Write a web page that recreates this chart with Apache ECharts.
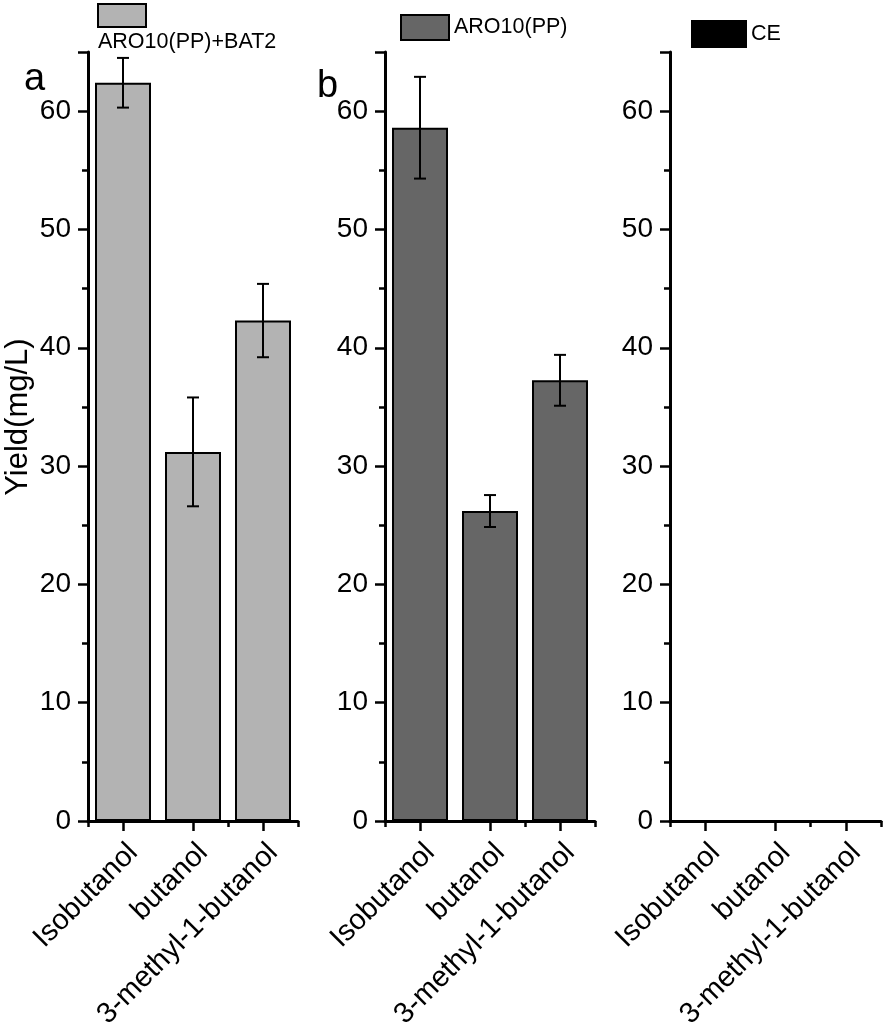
<!DOCTYPE html>
<html>
<head>
<meta charset="utf-8">
<script src="https://cdn.jsdelivr.net/npm/echarts@6/dist/echarts.min.js"></script>
<style>html,body{margin:0;padding:0;background:#fff;}#c{width:886px;height:1022px;}</style>
</head>
<body>
<div id="c"></div>
<script>
var categories = ['Isobutanol', 'butanol', '3-methyl-1-butanol'];
var seriesNames = ['ARO10(PP)+BAT2', 'ARO10(PP)', 'CE'];
var bat2Values = [62.4, 31.2, 42.3];
var bat2Errors = [2.1, 4.6, 3.1];
var ppValues = [58.6, 26.2, 37.25];
var ppErrors = [4.3, 1.35, 2.15];
var ceValues = [0, 0, 0];
var ceErrors = [null, null, null];
var yMin = 0, yMax = 65, yInterval = 10;
var panelLabels = ['a', 'b'];

var FONT = 'Liberation Sans, Arial, sans-serif';
var colors = ['#b3b3b3', '#666666', '#000000'];
var gridLefts = [88, 385, 670];
var gridWidths = [210, 210, 211];
var valuesList = [bat2Values, ppValues, ceValues];
var errorsList = [bat2Errors, ppErrors, ceErrors];

var grids = [], xAxes = [], yAxes = [], series = [], legends = [];
for (var i = 0; i < 3; i++) {
  grids.push({left: gridLefts[i], top: 52, width: gridWidths[i], height: 769, containLabel: false, outerBoundsMode: 'none'});
  xAxes.push({
    type: 'category', gridIndex: i, data: categories, boundaryGap: true,
    axisLine: {show: true, lineStyle: {color: '#000', width: 3}},
    axisTick: {show: true, alignWithLabel: true, length: 10, lineStyle: {color: '#000', width: 2.5}},
    axisLabel: {interval: 0, rotate: 45, fontSize: 29, fontFamily: FONT, color: '#000', margin: 17, verticalAlign: 'top'},
    splitLine: {show: false}
  });
  xAxes.push({
    type: 'category', gridIndex: i, data: categories, boundaryGap: true, position: 'bottom',
    axisLine: {show: false},
    axisTick: {show: true, alignWithLabel: false, length: 6, lineStyle: {color: '#000', width: 2.5}},
    axisLabel: {show: false}, splitLine: {show: false}
  });
  yAxes.push({
    type: 'value', gridIndex: i, min: yMin, max: yMax, interval: yInterval,
    axisLine: {show: true, lineStyle: {color: '#000', width: 3}},
    axisTick: {show: true, inside: false, length: 10, lineStyle: {color: '#000', width: 2.5}},
    minorTick: {show: true, splitNumber: 2, length: 6, lineStyle: {color: '#000', width: 2.5}},
    axisLabel: {fontSize: 28, fontFamily: FONT, color: '#000', margin: 17,
      formatter: function (v) { return v > 60 ? '' : String(v); }},
    splitLine: {show: false}
  });
  series.push({
    name: seriesNames[i], type: 'bar', xAxisIndex: i * 2, yAxisIndex: i,
    data: valuesList[i], barCategoryGap: '20%',
    itemStyle: {color: colors[i], borderColor: '#000', borderWidth: 2}
  });
  var errData = [];
  for (var k = 0; k < categories.length; k++) {
    if (errorsList[i][k] != null) {
      errData.push([k, valuesList[i][k] - errorsList[i][k], valuesList[i][k] + errorsList[i][k]]);
    }
  }
  if (errData.length) {
    series.push({
      type: 'custom', xAxisIndex: i * 2, yAxisIndex: i, data: errData, z: 10,
      encode: {x: 0, y: [1, 2]},
      renderItem: function (params, api) {
        var lo = api.coord([api.value(0), api.value(1)]);
        var hi = api.coord([api.value(0), api.value(2)]);
        var hw = 6;
        var st = {stroke: '#000', lineWidth: 2};
        return {type: 'group', children: [
          {type: 'line', shape: {x1: hi[0], y1: hi[1], x2: lo[0], y2: lo[1]}, style: st},
          {type: 'line', shape: {x1: hi[0] - hw, y1: hi[1], x2: hi[0] + hw, y2: hi[1]}, style: st},
          {type: 'line', shape: {x1: lo[0] - hw, y1: lo[1], x2: lo[0] + hw, y2: lo[1]}, style: st}
        ]};
      }
    });
  }
}

legends.push({data: [seriesNames[0]], left: 97, top: 3, padding: 0, itemWidth: 48, itemHeight: 23, icon: 'rect',
  formatter: function () { return ''; },
  itemStyle: {borderColor: '#000', borderWidth: 2}, textStyle: {fontSize: 21, fontFamily: FONT, color: '#000'}});
legends.push({data: [seriesNames[1]], left: 400, top: 14, padding: 0, itemWidth: 48, itemHeight: 25, icon: 'rect', itemGap: 5,
  itemStyle: {borderColor: '#000', borderWidth: 2}, textStyle: {fontSize: 21.5, fontFamily: FONT, color: '#000'}});
legends.push({data: [seriesNames[2]], left: 691, top: 20, padding: 0, itemWidth: 54, itemHeight: 26, icon: 'rect',
  itemStyle: {borderColor: '#000', borderWidth: 2}, textStyle: {fontSize: 21.5, fontFamily: FONT, color: '#000'}});

var option = {
  animation: false,
  backgroundColor: '#fff',
  title: [
    {text: panelLabels[0], left: 19, top: 56, textStyle: {fontSize: 38, fontWeight: 'normal', fontFamily: FONT, color: '#000'}},
    {text: panelLabels[1], left: 312, top: 63, textStyle: {fontSize: 38, fontWeight: 'normal', fontFamily: FONT, color: '#000'}},
    {text: seriesNames[0], left: 93, top: 26, textStyle: {fontSize: 21.5, fontWeight: 'normal', fontFamily: FONT, color: '#000'}}
  ],
  legend: legends,
  grid: grids,
  xAxis: xAxes,
  yAxis: yAxes,
  series: series,
  graphic: [{
    type: 'text', x: 18, y: 417, rotation: Math.PI / 2,
    style: {text: 'Yield(mg/L)', fontSize: 31, fontFamily: FONT, fill: '#000', align: 'center', verticalAlign: 'middle'}
  }]
};
var chart = echarts.init(document.getElementById('c'), null, {renderer: 'canvas'});
chart.setOption(option);
</script>
</body>
</html>
